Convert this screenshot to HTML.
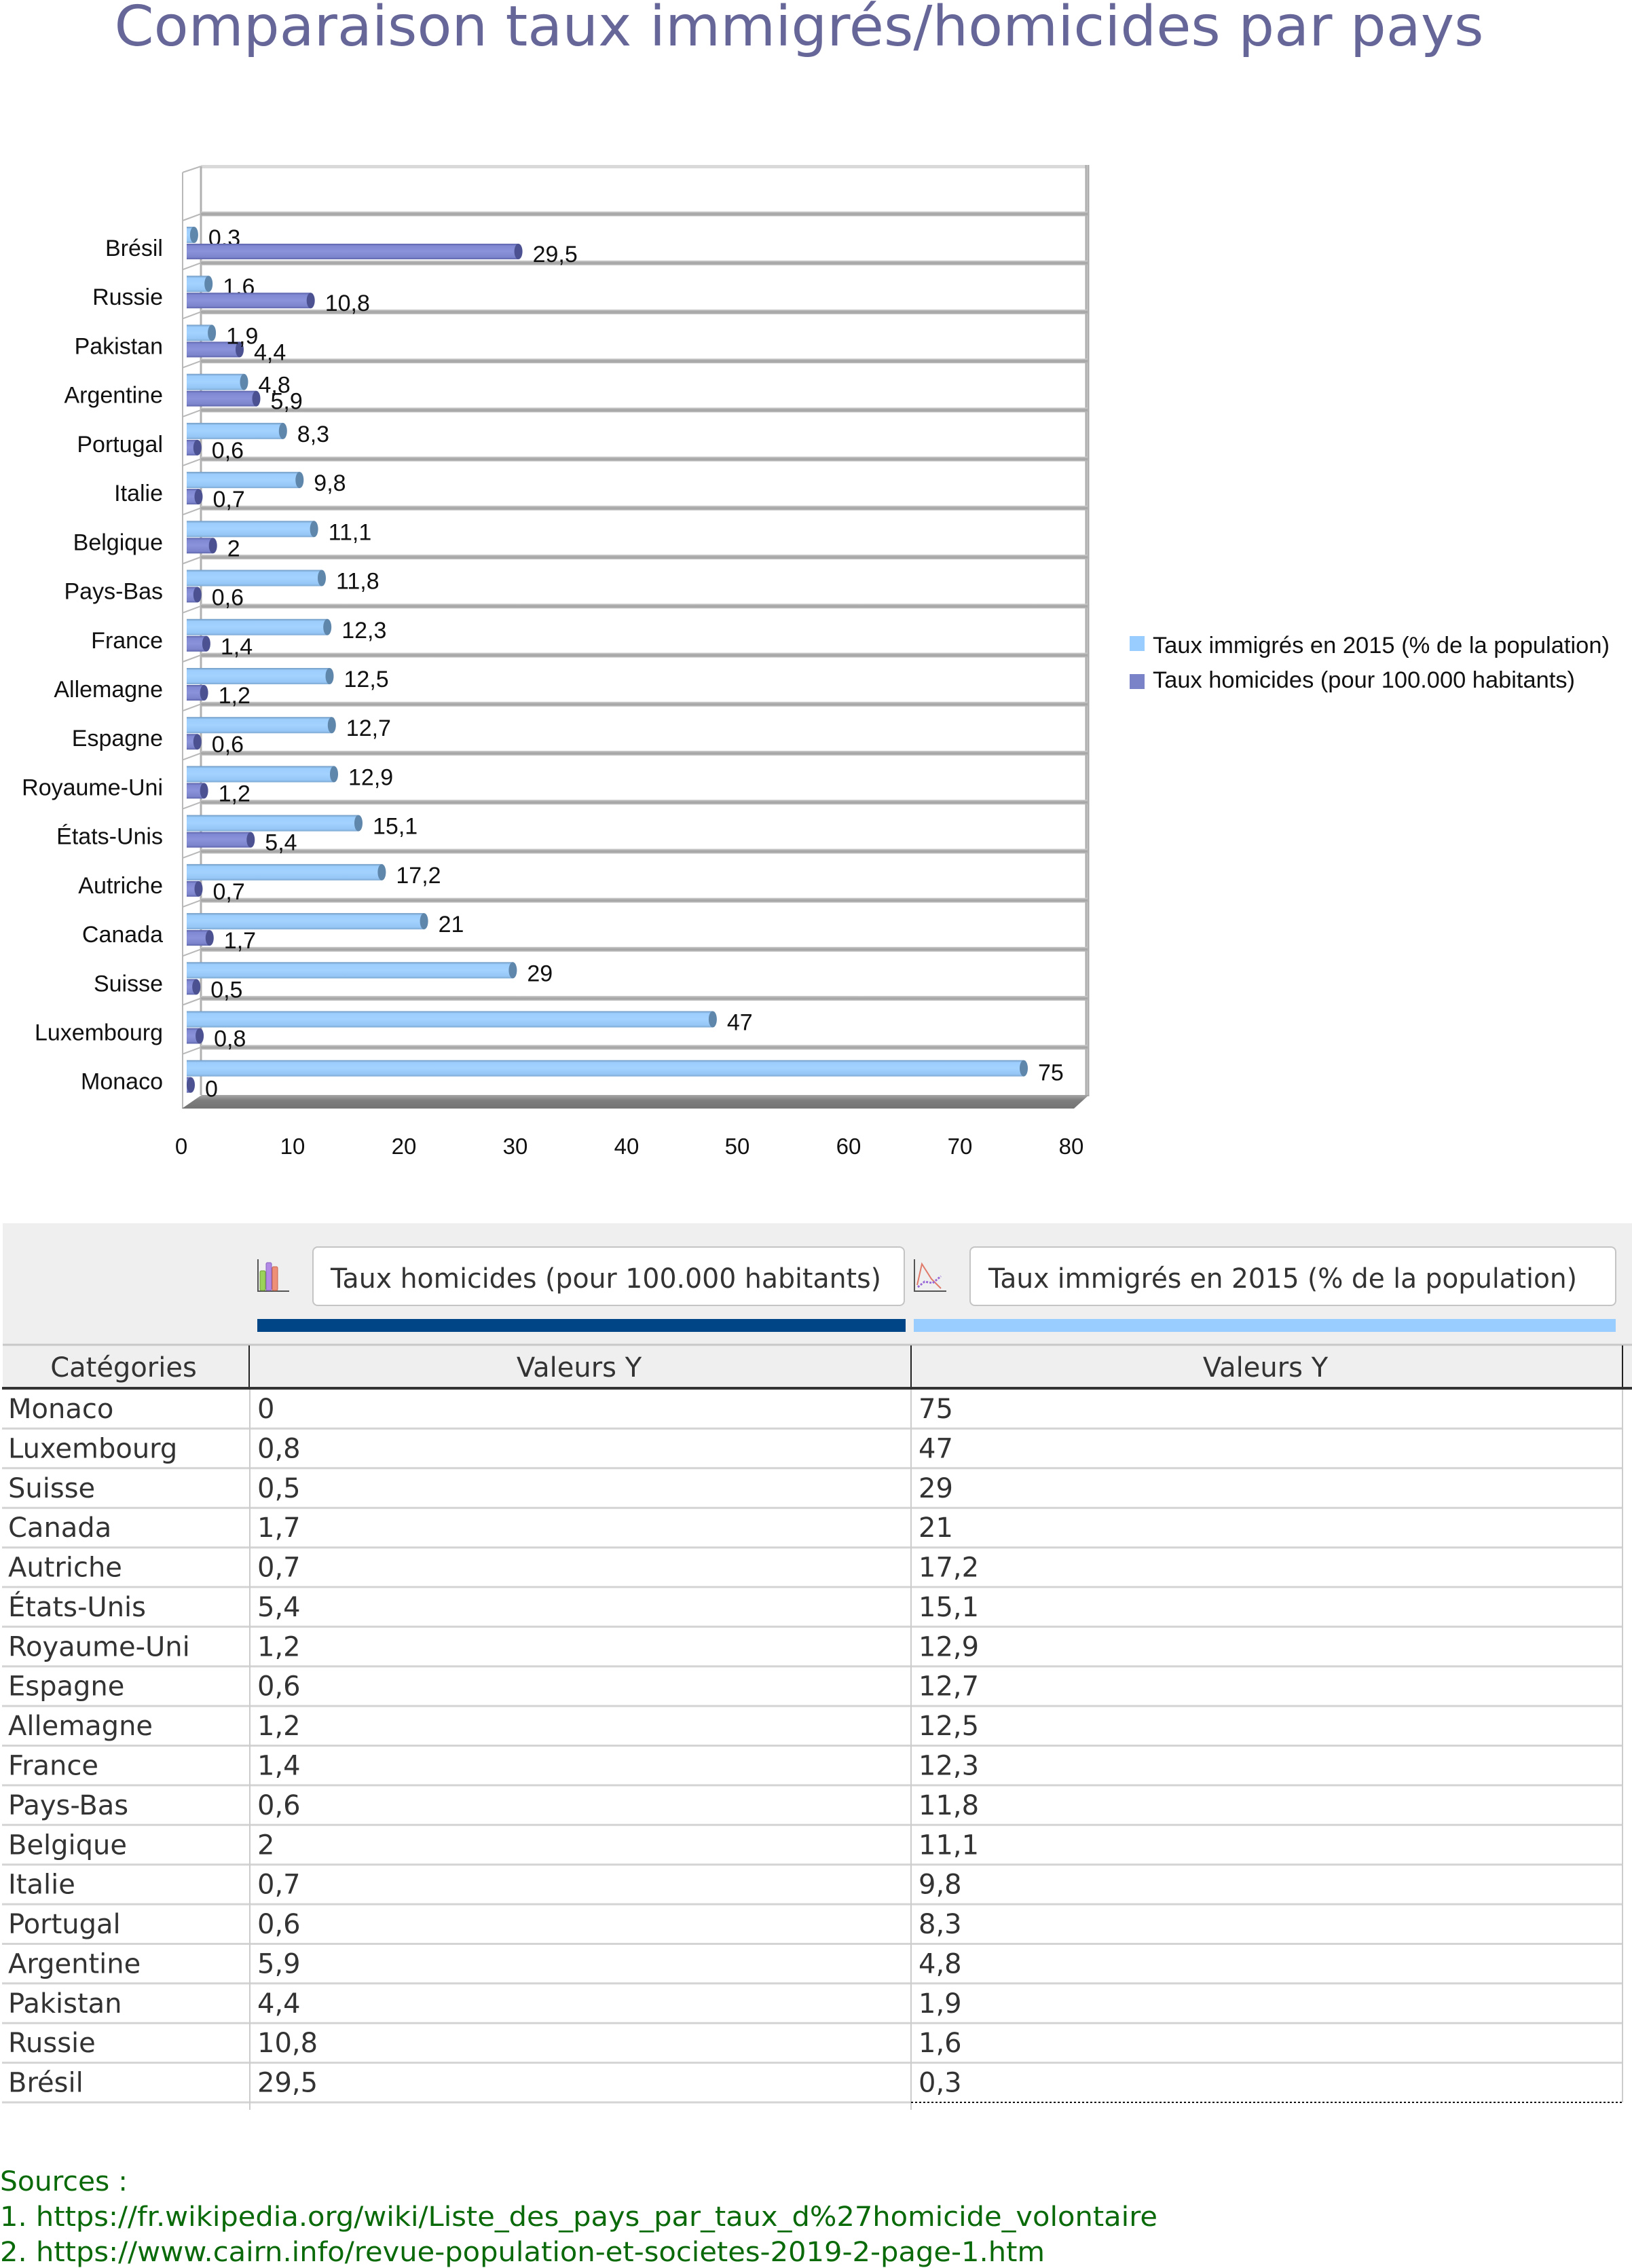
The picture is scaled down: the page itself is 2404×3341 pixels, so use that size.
<!DOCTYPE html>
<html><head><meta charset="utf-8"><style>
html,body{margin:0;padding:0;background:#fff;}
svg{display:block;}
.c{font-family:"Liberation Sans",Arial,sans-serif;font-size:34px;fill:#111;}
.t{font-family:"DejaVu Sans","Liberation Sans",sans-serif;font-size:40px;fill:#333;}
.s{font-family:"DejaVu Sans","Liberation Sans",sans-serif;font-size:40px;fill:#0a6a0a;}
</style></head><body>
<svg width="2404" height="3341" viewBox="0 0 2404 3341" xmlns="http://www.w3.org/2000/svg">
<defs>
<linearGradient id="gi" x1="0" y1="0" x2="0" y2="1">
<stop offset="0" stop-color="#6f98c0"/><stop offset="0.14" stop-color="#9ccdfc"/><stop offset="0.5" stop-color="#a3d2ff"/><stop offset="0.86" stop-color="#95c6f5"/><stop offset="1" stop-color="#7ea9d2"/>
</linearGradient>
<linearGradient id="gh" x1="0" y1="0" x2="0" y2="1">
<stop offset="0" stop-color="#5a61a8"/><stop offset="0.14" stop-color="#7f88d2"/><stop offset="0.5" stop-color="#8a93da"/><stop offset="0.86" stop-color="#7c84cc"/><stop offset="1" stop-color="#5d64aa"/>
</linearGradient>
<linearGradient id="gs" x1="0" y1="0" x2="0" y2="1">
<stop offset="0" stop-color="#cfcfcf"/><stop offset="0.5" stop-color="#a2a2a2"/><stop offset="1" stop-color="#bcbcbc"/>
</linearGradient>
<linearGradient id="gf" x1="0" y1="0" x2="0" y2="1">
<stop offset="0" stop-color="#a8a8a8"/><stop offset="0.4" stop-color="#7d7d7d"/><stop offset="1" stop-color="#747474"/>
</linearGradient>
</defs>

<!-- Title -->
<text x="1177" y="67" text-anchor="middle" textLength="2017" lengthAdjust="spacingAndGlyphs" style="font-family:'DejaVu Sans','Liberation Sans',sans-serif;font-size:82px;fill:#666699;">Comparaison taux immigrés/homicides par pays</text>

<!-- Chart walls -->
<line x1="296" y1="245.5" x2="1602" y2="245.5" stroke="#d9d9d9" stroke-width="5"/>
<line x1="269" y1="254" x2="269" y2="1633" stroke="#b8b8b8" stroke-width="2"/>
<line x1="296" y1="245" x2="296" y2="1613" stroke="#b0b0b0" stroke-width="3"/>
<line x1="269" y1="254" x2="296" y2="245" stroke="#b8b8b8" stroke-width="2"/>
<line x1="1601.5" y1="243" x2="1601.5" y2="1615" stroke="#a8a8a8" stroke-width="6"/>
<line x1="1601.5" y1="243" x2="1601.5" y2="1615" stroke="#c4c4c4" stroke-width="2"/>
<polygon points="268,1633 297,1613 1604,1613 1582,1633" fill="url(#gf)"/>

<!-- separators -->
<g fill="url(#gs)">
<rect x="296" y="311.5" width="1306" height="7"/>
<rect x="296" y="383.7" width="1306" height="7"/>
<rect x="296" y="455.9" width="1306" height="7"/>
<rect x="296" y="528.2" width="1306" height="7"/>
<rect x="296" y="600.4" width="1306" height="7"/>
<rect x="296" y="672.6" width="1306" height="7"/>
<rect x="296" y="744.8" width="1306" height="7"/>
<rect x="296" y="817.0" width="1306" height="7"/>
<rect x="296" y="889.3" width="1306" height="7"/>
<rect x="296" y="961.5" width="1306" height="7"/>
<rect x="296" y="1033.7" width="1306" height="7"/>
<rect x="296" y="1105.9" width="1306" height="7"/>
<rect x="296" y="1178.1" width="1306" height="7"/>
<rect x="296" y="1250.4" width="1306" height="7"/>
<rect x="296" y="1322.6" width="1306" height="7"/>
<rect x="296" y="1394.8" width="1306" height="7"/>
<rect x="296" y="1467.0" width="1306" height="7"/>
<rect x="296" y="1539.2" width="1306" height="7"/>
</g>
<g stroke="#b8b8b8" stroke-width="2">
<line x1="269" y1="325" x2="296" y2="315"/>
<line x1="269" y1="397.2" x2="296" y2="387.2"/>
<line x1="269" y1="469.4" x2="296" y2="459.4"/>
<line x1="269" y1="541.7" x2="296" y2="531.7"/>
<line x1="269" y1="613.9" x2="296" y2="603.9"/>
<line x1="269" y1="686.1" x2="296" y2="676.1"/>
<line x1="269" y1="758.3" x2="296" y2="748.3"/>
<line x1="269" y1="830.5" x2="296" y2="820.5"/>
<line x1="269" y1="902.8" x2="296" y2="892.8"/>
<line x1="269" y1="975.0" x2="296" y2="965.0"/>
<line x1="269" y1="1047.2" x2="296" y2="1037.2"/>
<line x1="269" y1="1119.4" x2="296" y2="1109.4"/>
<line x1="269" y1="1191.6" x2="296" y2="1181.6"/>
<line x1="269" y1="1263.9" x2="296" y2="1253.9"/>
<line x1="269" y1="1336.1" x2="296" y2="1326.1"/>
<line x1="269" y1="1408.3" x2="296" y2="1398.3"/>
<line x1="269" y1="1480.5" x2="296" y2="1470.5"/>
<line x1="269" y1="1552.7" x2="296" y2="1542.7"/>
</g>

<!-- Categories -->
<g class="c">
<g transform="translate(0,315)">
<text x="240" y="62" text-anchor="end">Brésil</text>
<rect x="275" y="19" width="10.9" height="24" fill="url(#gi)"/><ellipse cx="285.9" cy="31" rx="6" ry="12" fill="#5f86ab"/>
<text x="306.9" y="47">0,3</text>
<rect x="275" y="44" width="488.6" height="23" fill="url(#gh)"/><ellipse cx="763.6" cy="55.5" rx="6" ry="11.5" fill="#4b5191"/>
<text x="784.6" y="71">29,5</text>
</g>
<g transform="translate(0,387.2)">
<text x="240" y="62" text-anchor="end">Russie</text>
<rect x="275" y="19" width="32.2" height="24" fill="url(#gi)"/><ellipse cx="307.2" cy="31" rx="6" ry="12" fill="#5f86ab"/>
<text x="328.2" y="47">1,6</text>
<rect x="275" y="44" width="182.7" height="23" fill="url(#gh)"/><ellipse cx="457.7" cy="55.5" rx="6" ry="11.5" fill="#4b5191"/>
<text x="478.7" y="71">10,8</text>
</g>
<g transform="translate(0,459.4)">
<text x="240" y="62" text-anchor="end">Pakistan</text>
<rect x="275" y="19" width="37.1" height="24" fill="url(#gi)"/><ellipse cx="312.1" cy="31" rx="6" ry="12" fill="#5f86ab"/>
<rect x="275" y="44" width="78" height="23" fill="url(#gh)"/><ellipse cx="353" cy="55.5" rx="6" ry="11.5" fill="#4b5191"/>
<text x="333.1" y="47">1,9</text>
<text x="374" y="71">4,4</text>
</g>
<g transform="translate(0,531.7)">
<text x="240" y="62" text-anchor="end">Argentine</text>
<rect x="275" y="19" width="84.5" height="24" fill="url(#gi)"/><ellipse cx="359.5" cy="31" rx="6" ry="12" fill="#5f86ab"/>
<rect x="275" y="44" width="102.5" height="23" fill="url(#gh)"/><ellipse cx="377.5" cy="55.5" rx="6" ry="11.5" fill="#4b5191"/>
<text x="380.5" y="47">4,8</text>
<text x="398.5" y="71">5,9</text>
</g>
<g transform="translate(0,603.9)">
<text x="240" y="62" text-anchor="end">Portugal</text>
<rect x="275" y="19" width="141.8" height="24" fill="url(#gi)"/><ellipse cx="416.8" cy="31" rx="6" ry="12" fill="#5f86ab"/>
<text x="437.8" y="47">8,3</text>
<rect x="275" y="44" width="15.8" height="23" fill="url(#gh)"/><ellipse cx="290.8" cy="55.5" rx="6" ry="11.5" fill="#4b5191"/>
<text x="311.8" y="71">0,6</text>
</g>
<g transform="translate(0,676.1)">
<text x="240" y="62" text-anchor="end">Italie</text>
<rect x="275" y="19" width="166.3" height="24" fill="url(#gi)"/><ellipse cx="441.3" cy="31" rx="6" ry="12" fill="#5f86ab"/>
<text x="462.3" y="47">9,8</text>
<rect x="275" y="44" width="17.5" height="23" fill="url(#gh)"/><ellipse cx="292.5" cy="55.5" rx="6" ry="11.5" fill="#4b5191"/>
<text x="313.5" y="71">0,7</text>
</g>
<g transform="translate(0,748.3)">
<text x="240" y="62" text-anchor="end">Belgique</text>
<rect x="275" y="19" width="187.6" height="24" fill="url(#gi)"/><ellipse cx="462.6" cy="31" rx="6" ry="12" fill="#5f86ab"/>
<text x="483.6" y="47">11,1</text>
<rect x="275" y="44" width="38.7" height="23" fill="url(#gh)"/><ellipse cx="313.7" cy="55.5" rx="6" ry="11.5" fill="#4b5191"/>
<text x="334.7" y="71">2</text>
</g>
<g transform="translate(0,820.5)">
<text x="240" y="62" text-anchor="end">Pays-Bas</text>
<rect x="275" y="19" width="199" height="24" fill="url(#gi)"/><ellipse cx="474" cy="31" rx="6" ry="12" fill="#5f86ab"/>
<text x="495" y="47">11,8</text>
<rect x="275" y="44" width="15.8" height="23" fill="url(#gh)"/><ellipse cx="290.8" cy="55.5" rx="6" ry="11.5" fill="#4b5191"/>
<text x="311.8" y="71">0,6</text>
</g>
<g transform="translate(0,892.8)">
<text x="240" y="62" text-anchor="end">France</text>
<rect x="275" y="19" width="207.2" height="24" fill="url(#gi)"/><ellipse cx="482.2" cy="31" rx="6" ry="12" fill="#5f86ab"/>
<text x="503.2" y="47">12,3</text>
<rect x="275" y="44" width="28.9" height="23" fill="url(#gh)"/><ellipse cx="303.9" cy="55.5" rx="6" ry="11.5" fill="#4b5191"/>
<text x="324.9" y="71">1,4</text>
</g>
<g transform="translate(0,965)">
<text x="240" y="62" text-anchor="end">Allemagne</text>
<rect x="275" y="19" width="210.5" height="24" fill="url(#gi)"/><ellipse cx="485.5" cy="31" rx="6" ry="12" fill="#5f86ab"/>
<text x="506.5" y="47">12,5</text>
<rect x="275" y="44" width="25.6" height="23" fill="url(#gh)"/><ellipse cx="300.6" cy="55.5" rx="6" ry="11.5" fill="#4b5191"/>
<text x="321.6" y="71">1,2</text>
</g>
<g transform="translate(0,1037.2)">
<text x="240" y="62" text-anchor="end">Espagne</text>
<rect x="275" y="19" width="213.8" height="24" fill="url(#gi)"/><ellipse cx="488.8" cy="31" rx="6" ry="12" fill="#5f86ab"/>
<text x="509.8" y="47">12,7</text>
<rect x="275" y="44" width="15.8" height="23" fill="url(#gh)"/><ellipse cx="290.8" cy="55.5" rx="6" ry="11.5" fill="#4b5191"/>
<text x="311.8" y="71">0,6</text>
</g>
<g transform="translate(0,1109.4)">
<text x="240" y="62" text-anchor="end">Royaume-Uni</text>
<rect x="275" y="19" width="217" height="24" fill="url(#gi)"/><ellipse cx="492" cy="31" rx="6" ry="12" fill="#5f86ab"/>
<text x="513" y="47">12,9</text>
<rect x="275" y="44" width="25.6" height="23" fill="url(#gh)"/><ellipse cx="300.6" cy="55.5" rx="6" ry="11.5" fill="#4b5191"/>
<text x="321.6" y="71">1,2</text>
</g>
<g transform="translate(0,1181.6)">
<text x="240" y="62" text-anchor="end">États-Unis</text>
<rect x="275" y="19" width="253" height="24" fill="url(#gi)"/><ellipse cx="528" cy="31" rx="6" ry="12" fill="#5f86ab"/>
<text x="549" y="47">15,1</text>
<rect x="275" y="44" width="94.3" height="23" fill="url(#gh)"/><ellipse cx="369.3" cy="55.5" rx="6" ry="11.5" fill="#4b5191"/>
<text x="390.3" y="71">5,4</text>
</g>
<g transform="translate(0,1253.9)">
<text x="240" y="62" text-anchor="end">Autriche</text>
<rect x="275" y="19" width="287.4" height="24" fill="url(#gi)"/><ellipse cx="562.4" cy="31" rx="6" ry="12" fill="#5f86ab"/>
<text x="583.4" y="47">17,2</text>
<rect x="275" y="44" width="17.5" height="23" fill="url(#gh)"/><ellipse cx="292.5" cy="55.5" rx="6" ry="11.5" fill="#4b5191"/>
<text x="313.5" y="71">0,7</text>
</g>
<g transform="translate(0,1326.1)">
<text x="240" y="62" text-anchor="end">Canada</text>
<rect x="275" y="19" width="349.6" height="24" fill="url(#gi)"/><ellipse cx="624.6" cy="31" rx="6" ry="12" fill="#5f86ab"/>
<text x="645.6" y="47">21</text>
<rect x="275" y="44" width="33.8" height="23" fill="url(#gh)"/><ellipse cx="308.8" cy="55.5" rx="6" ry="11.5" fill="#4b5191"/>
<text x="329.8" y="71">1,7</text>
</g>
<g transform="translate(0,1398.3)">
<text x="240" y="62" text-anchor="end">Suisse</text>
<rect x="275" y="19" width="480.4" height="24" fill="url(#gi)"/><ellipse cx="755.4" cy="31" rx="6" ry="12" fill="#5f86ab"/>
<text x="776.4" y="47">29</text>
<rect x="275" y="44" width="14.2" height="23" fill="url(#gh)"/><ellipse cx="289.2" cy="55.5" rx="6" ry="11.5" fill="#4b5191"/>
<text x="310.2" y="71">0,5</text>
</g>
<g transform="translate(0,1470.5)">
<text x="240" y="62" text-anchor="end">Luxembourg</text>
<rect x="275" y="19" width="774.9" height="24" fill="url(#gi)"/><ellipse cx="1049.9" cy="31" rx="6" ry="12" fill="#5f86ab"/>
<text x="1070.9" y="47">47</text>
<rect x="275" y="44" width="19.1" height="23" fill="url(#gh)"/><ellipse cx="294.1" cy="55.5" rx="6" ry="11.5" fill="#4b5191"/>
<text x="315.1" y="71">0,8</text>
</g>
<g transform="translate(0,1542.7)">
<text x="240" y="62" text-anchor="end">Monaco</text>
<rect x="275" y="19" width="1233" height="24" fill="url(#gi)"/><ellipse cx="1508" cy="31" rx="6" ry="12" fill="#5f86ab"/>
<text x="1529" y="49">75</text>
<rect x="275" y="44" width="6" height="23" fill="url(#gh)"/><ellipse cx="281" cy="55.5" rx="6" ry="11.5" fill="#4b5191"/>
<text x="302" y="73">0</text>
</g>
</g>

<!-- X axis labels -->
<g class="c" text-anchor="middle" style="font-size:33px">
<text x="267" y="1700">0</text>
<text x="431" y="1700">10</text>
<text x="595" y="1700">20</text>
<text x="759" y="1700">30</text>
<text x="923" y="1700">40</text>
<text x="1086" y="1700">50</text>
<text x="1250" y="1700">60</text>
<text x="1414" y="1700">70</text>
<text x="1578" y="1700">80</text>
</g>

<!-- Legend -->
<rect x="1664" y="937" width="22" height="22" fill="#99ccff"/>
<rect x="1664" y="993" width="22" height="22" fill="#7b83c8"/>
<text class="c" x="1698" y="962" textLength="673" lengthAdjust="spacingAndGlyphs">Taux immigrés en 2015 (% de la population)</text>
<text class="c" x="1698" y="1013" textLength="622" lengthAdjust="spacingAndGlyphs">Taux homicides (pour 100.000 habitants)</text>

<!-- Data table panel -->
<rect x="4" y="1802" width="2400" height="244" fill="#efefef"/>
<!-- icon 1 -->
<path d="M380 1855 V1902 H426" stroke="#555" stroke-width="2" fill="none"/>
<rect x="383" y="1872" width="8" height="29" rx="2" fill="#9bd35a" stroke="#6f9f33" stroke-width="1"/>
<rect x="392" y="1860" width="8" height="41" rx="2" fill="#b28ae6" stroke="#8660c0" stroke-width="1"/>
<rect x="401" y="1866" width="8" height="35" rx="2" fill="#ee9077" stroke="#c8654c" stroke-width="1"/>
<!-- button 1 -->
<rect x="461" y="1837" width="871" height="86" rx="7" fill="#fff" stroke="#c4c4c4" stroke-width="2"/>
<text class="t" x="487" y="1897" textLength="811" lengthAdjust="spacingAndGlyphs">Taux homicides (pour 100.000 habitants)</text>
<!-- icon 2 -->
<path d="M1347 1855 V1902 H1394" stroke="#555" stroke-width="2" fill="none"/>
<polyline points="1351,1893 1358,1862 1372,1884 1386,1898" stroke="#e07a6a" stroke-width="2" fill="none"/>
<polyline points="1352,1896 1362,1888 1374,1890 1386,1880" stroke="#9a6ad8" stroke-width="3" stroke-dasharray="3,2" fill="none"/>
<!-- button 2 -->
<rect x="1429" y="1837" width="951" height="86" rx="7" fill="#fff" stroke="#c4c4c4" stroke-width="2"/>
<text class="t" x="1456" y="1897" textLength="867" lengthAdjust="spacingAndGlyphs">Taux immigrés en 2015 (% de la population)</text>
<!-- series colour bars -->
<rect x="379" y="1943" width="955" height="19" fill="#004586"/>
<rect x="1346" y="1943" width="1034" height="19" fill="#99ccff"/>

<!-- header row -->
<line x1="4" y1="1981" x2="2404" y2="1981" stroke="#c8c8c8" stroke-width="3"/>
<g stroke="#222" stroke-width="2">
<line x1="367" y1="1982" x2="367" y2="2045"/>
<line x1="1342" y1="1982" x2="1342" y2="2045"/>
<line x1="2390" y1="1982" x2="2390" y2="2045"/>
</g>
<text class="t" x="182" y="2028" text-anchor="middle">Catégories</text>
<text class="t" x="853" y="2028" text-anchor="middle">Valeurs Y</text>
<text class="t" x="1864" y="2028" text-anchor="middle">Valeurs Y</text>
<line x1="3" y1="2045" x2="2404" y2="2045" stroke="#333" stroke-width="4"/>

<!-- row lines -->
<g stroke="#d4d4d4" stroke-width="3">
<line x1="3" y1="2104.4" x2="2390" y2="2104.4"/>
<line x1="3" y1="2162.8" x2="2390" y2="2162.8"/>
<line x1="3" y1="2221.2" x2="2390" y2="2221.2"/>
<line x1="3" y1="2279.6" x2="2390" y2="2279.6"/>
<line x1="3" y1="2337.9" x2="2390" y2="2337.9"/>
<line x1="3" y1="2396.3" x2="2390" y2="2396.3"/>
<line x1="3" y1="2454.7" x2="2390" y2="2454.7"/>
<line x1="3" y1="2513.1" x2="2390" y2="2513.1"/>
<line x1="3" y1="2571.5" x2="2390" y2="2571.5"/>
<line x1="3" y1="2629.9" x2="2390" y2="2629.9"/>
<line x1="3" y1="2688.3" x2="2390" y2="2688.3"/>
<line x1="3" y1="2746.7" x2="2390" y2="2746.7"/>
<line x1="3" y1="2805.1" x2="2390" y2="2805.1"/>
<line x1="3" y1="2863.5" x2="2390" y2="2863.5"/>
<line x1="3" y1="2921.8" x2="2390" y2="2921.8"/>
<line x1="3" y1="2980.2" x2="2390" y2="2980.2"/>
<line x1="3" y1="3038.6" x2="2390" y2="3038.6"/>
<line x1="3" y1="3097" x2="1342" y2="3097"/>
</g>
<g stroke="#cccccc" stroke-width="2">
<line x1="368" y1="2047" x2="368" y2="3108"/>
<line x1="1342" y1="2047" x2="1342" y2="3108"/>
<line x1="2390" y1="2047" x2="2390" y2="3097"/>
</g>
<line x1="1342" y1="3097" x2="2390" y2="3097" stroke="#111" stroke-width="2" stroke-dasharray="3,3"/>

<!-- table text -->
<g class="t">
<text x="12" y="2089">Monaco</text><text x="379" y="2089">0</text><text x="1353" y="2089">75</text>
<text x="12" y="2147.4">Luxembourg</text><text x="379" y="2147.4">0,8</text><text x="1353" y="2147.4">47</text>
<text x="12" y="2205.8">Suisse</text><text x="379" y="2205.8">0,5</text><text x="1353" y="2205.8">29</text>
<text x="12" y="2264.2">Canada</text><text x="379" y="2264.2">1,7</text><text x="1353" y="2264.2">21</text>
<text x="12" y="2322.6">Autriche</text><text x="379" y="2322.6">0,7</text><text x="1353" y="2322.6">17,2</text>
<text x="12" y="2380.9">États-Unis</text><text x="379" y="2380.9">5,4</text><text x="1353" y="2380.9">15,1</text>
<text x="12" y="2439.3">Royaume-Uni</text><text x="379" y="2439.3">1,2</text><text x="1353" y="2439.3">12,9</text>
<text x="12" y="2497.7">Espagne</text><text x="379" y="2497.7">0,6</text><text x="1353" y="2497.7">12,7</text>
<text x="12" y="2556.1">Allemagne</text><text x="379" y="2556.1">1,2</text><text x="1353" y="2556.1">12,5</text>
<text x="12" y="2614.5">France</text><text x="379" y="2614.5">1,4</text><text x="1353" y="2614.5">12,3</text>
<text x="12" y="2672.9">Pays-Bas</text><text x="379" y="2672.9">0,6</text><text x="1353" y="2672.9">11,8</text>
<text x="12" y="2731.3">Belgique</text><text x="379" y="2731.3">2</text><text x="1353" y="2731.3">11,1</text>
<text x="12" y="2789.7">Italie</text><text x="379" y="2789.7">0,7</text><text x="1353" y="2789.7">9,8</text>
<text x="12" y="2848.1">Portugal</text><text x="379" y="2848.1">0,6</text><text x="1353" y="2848.1">8,3</text>
<text x="12" y="2906.5">Argentine</text><text x="379" y="2906.5">5,9</text><text x="1353" y="2906.5">4,8</text>
<text x="12" y="2964.8">Pakistan</text><text x="379" y="2964.8">4,4</text><text x="1353" y="2964.8">1,9</text>
<text x="12" y="3023.2">Russie</text><text x="379" y="3023.2">10,8</text><text x="1353" y="3023.2">1,6</text>
<text x="12" y="3081.6">Brésil</text><text x="379" y="3081.6">29,5</text><text x="1353" y="3081.6">0,3</text>
</g>

<!-- Sources -->
<text class="s" x="0" y="3227" textLength="188" lengthAdjust="spacingAndGlyphs">Sources :</text>
<text class="s" x="0" y="3279" textLength="1705" lengthAdjust="spacingAndGlyphs">1. https://fr.wikipedia.org/wiki/Liste_des_pays_par_taux_d%27homicide_volontaire</text>
<text class="s" x="0" y="3331" textLength="1539" lengthAdjust="spacingAndGlyphs">2. https://www.cairn.info/revue-population-et-societes-2019-2-page-1.htm</text>
</svg>
</body></html>
